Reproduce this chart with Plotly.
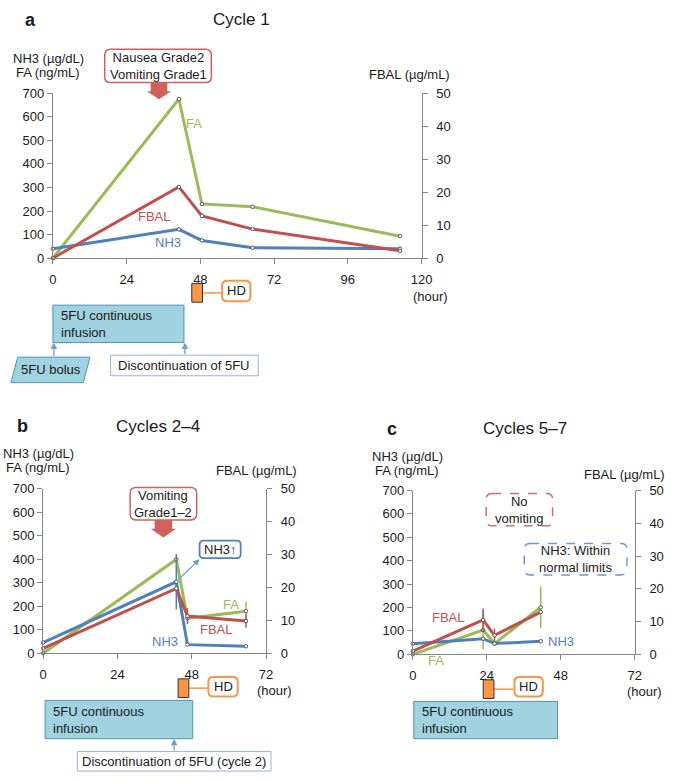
import plotly.graph_objects as go

W, H = 681, 781
FONT = "Liberation Sans, Arial, sans-serif"
GREEN, RED, BLUE = "#9bbb59", "#c0504d", "#4f81bd"
AXC = "#868686"

# ---- data ----
a_hours = [0, 41, 48.5, 65, 113]
a_fa = [0, 676, 230, 218, 93]
a_fbal = [0, 21.6, 12.8, 8.8, 2.2]
a_nh3 = [40, 122, 75, 44, 40]

b_hours = [0, 43, 46.6, 65.5]
b_fa = [0, 399, 149, 179]
b_fbal = [1.5, 19.7, 11.3, 9.8]
b_nh3 = [46, 304, 37, 30]
b_fa_err = [0, 0, 0, 40]
b_fbal_err = [0, 0, 2.4, 2.0]
b_nh3_err = [0, 118, 0, 0]

c_hours = [0, 22.8, 26.5, 41.5]
c_fa = [0, 104, 46, 201]
c_fbal = [1.0, 10.5, 5.8, 12.9]
c_nh3 = [45, 67, 46, 56]
c_fa_err = [0, 83, 0, 90]
c_fbal_err = [0, 3.5, 2.0, 0]

left_ticks = list(range(0, 701, 100))
right_ticks = list(range(0, 51, 10))


def px(x, y):
    return x / W, 1 - y / H


def rrect_path(x0, y0, x1, y1, r):
    # rounded rectangle in paper units, given pixel corners
    def p(x, y):
        a, b = px(x, y)
        return f"{a:.5f},{b:.5f}"
    d = (f"M {p(x0 + r, y0)} L {p(x1 - r, y0)} Q {p(x1, y0)} {p(x1, y0 + r)} "
         f"L {p(x1, y1 - r)} Q {p(x1, y1)} {p(x1 - r, y1)} "
         f"L {p(x0 + r, y1)} Q {p(x0, y1)} {p(x0, y1 - r)} "
         f"L {p(x0, y0 + r)} Q {p(x0, y0)} {p(x0 + r, y0)} Z")
    return d


def poly_path(points):
    s = []
    for i, (x, y) in enumerate(points):
        a, b = px(x, y)
        s.append(("M " if i == 0 else "L ") + f"{a:.5f},{b:.5f}")
    return " ".join(s) + " Z"


shapes = []
annotations = []


def text(x, y, t, size=13, color="#1a1a1a", xanchor="center", bold=False, align="center"):
    a, b = px(x, y)
    annotations.append(dict(x=a, y=b, xref="paper", yref="paper", text=f"<b>{t}</b>" if bold else t,
                            showarrow=False, xanchor=xanchor, yanchor="middle", align=align,
                            font=dict(family=FONT, size=size, color=color)))


def rbox(x0, y0, x1, y1, color, width=1.5, r=5, fill="white", dash="solid"):
    shapes.append(dict(type="path", path=rrect_path(x0, y0, x1, y1, r), xref="paper", yref="paper",
                       line=dict(color=color, width=width, dash=dash), fillcolor=fill))


def rect(x0, y0, x1, y1, color, fill, width=1):
    a0, b0 = px(x0, y0)
    a1, b1 = px(x1, y1)
    shapes.append(dict(type="rect", x0=a0, x1=a1, y0=b1, y1=b0, xref="paper", yref="paper",
                       line=dict(color=color, width=width), fillcolor=fill))


def line(x0, y0, x1, y1, color, width=1.5):
    a0, b0 = px(x0, y0)
    a1, b1 = px(x1, y1)
    shapes.append(dict(type="line", x0=a0, x1=a1, y0=b0, y1=b1, xref="paper", yref="paper",
                       line=dict(color=color, width=width)))


def arrow(xh, yh, xt, yt, color="#6d9ed0", width=1.3):
    a, b = px(xh, yh)
    annotations.append(dict(x=a, y=b, xref="paper", yref="paper", ax=xt - xh, ay=yt - yh,
                            text="", showarrow=True, arrowhead=2, arrowsize=1, arrowwidth=width,
                            arrowcolor=color))


def block_arrow(xc, y0, y1, half_shaft, half_head, head_y):
    pts = [(xc - half_shaft, y0), (xc + half_shaft, y0), (xc + half_shaft, head_y),
           (xc + half_head, head_y), (xc, y1), (xc - half_head, head_y), (xc - half_shaft, head_y)]
    shapes.append(dict(type="path", path=poly_path(pts), xref="paper", yref="paper",
                       line=dict(color="#d0605a", width=0), fillcolor="#d0605a"))


def hd(x0, y0, x1, y1, bx0, by0, bx1, by1):
    ym = (y0 + y1) / 2
    line(x1, ym, bx0, ym, "#f79646", 1.5)
    rect(x0, y0, x1, y1, "#333333", "#f79646", 1)
    rbox(bx0, by0, bx1, by1, "#f79646", width=2, r=5)
    text((bx0 + bx1) / 2, (by0 + by1) / 2, "HD")


fig = go.Figure()


def add_series(hours, vals, xa, ya, color, err=None):
    fig.add_trace(go.Scatter(
        x=hours, y=vals, xaxis=xa, yaxis=ya, mode="lines+markers",
        line=dict(color=color, width=3),
        marker=dict(symbol="circle", size=3.5, color="white", line=dict(color="#555555", width=1)),
        error_y=dict(type="data", array=err, visible=True, color=color, thickness=1.5, width=0) if err else None,
        showlegend=False, cliponaxis=False))


# panel a
add_series(a_hours, a_fa, "x", "y", GREEN)
add_series(a_hours, a_nh3, "x", "y", BLUE)
add_series(a_hours, a_fbal, "x", "y2", RED)
# panel b
add_series(b_hours, b_fa, "x2", "y3", GREEN, b_fa_err)
add_series(b_hours, b_nh3, "x2", "y3", BLUE, b_nh3_err)
add_series(b_hours, b_fbal, "x2", "y4", RED, b_fbal_err)
# panel c
add_series(c_hours, c_fa, "x3", "y5", GREEN, c_fa_err)
add_series(c_hours, c_nh3, "x3", "y5", BLUE)
add_series(c_hours, c_fbal, "x3", "y6", RED, c_fbal_err)

tf = dict(family=FONT, size=13, color="#1a1a1a")
common = dict(showgrid=False, zeroline=False, showline=True, linecolor=AXC, linewidth=1,
              ticks="outside", ticklen=5, tickcolor=AXC, tickfont=tf, fixedrange=True)


def xax(x0, x1, rng, anchor):
    return dict(domain=[x0 / W, x1 / W], range=rng, tickvals=list(range(0, rng[1] + 1, 24)),
                anchor=anchor, ticklabelstandoff=4, **common)


def yax(y0, y1, anchor):
    return dict(domain=[1 - y1 / H, 1 - y0 / H], range=[0, 700], tickvals=left_ticks, anchor=anchor, **common)


def y2ax(y0, y1, anchor, over):
    return dict(domain=[1 - y1 / H, 1 - y0 / H], range=[0, 50], tickvals=right_ticks, anchor=anchor,
                overlaying=over, side="right", ticklabelstandoff=6, **common)


fig.update_layout(
    width=W, height=H, autosize=False, margin=dict(l=0, r=0, t=0, b=0),
    paper_bgcolor="white", plot_bgcolor="white",
    xaxis=xax(50, 427, [0, 120], "y"),
    yaxis=yax(88, 256, "x"),
    yaxis2=y2ax(88, 256, "x", "y"),
    xaxis2=xax(40, 268, [0, 72], "y3"),
    yaxis3=yax(491, 659, "x2"),
    yaxis4=y2ax(491, 659, "x2", "y3"),
    xaxis3=xax(418, 645, [0, 72], "y5"),
    yaxis5=yax(493, 660, "x3"),
    yaxis6=y2ax(493, 660, "x3", "y5"),
)


# series labels (data coordinates)
def slabel(x, y, t, color, xr, yr):
    annotations.append(dict(x=x, y=y, xref=xr, yref=yr, text=t, showarrow=False,
                            font=dict(family=FONT, size=13, color=color)))


slabel(45.8, 571, "FA", GREEN, "x", "y")
slabel(33.1, 175, "FBAL", RED, "x", "y")
slabel(37.6, 67, "NH3", BLUE, "x", "y")
slabel(60.6, 208, "FA", GREEN, "x2", "y3")
slabel(55.9, 100, "FBAL", RED, "x2", "y3")
slabel(39.5, 50, "NH3", BLUE, "x2", "y3")
slabel(11.7, 159, "FBAL", RED, "x3", "y5")
slabel(48.2, 54, "NH3", BLUE, "x3", "y5")
# this one sits below the axis, so place it in paper units (out-of-range labels are hidden)
text(442, 666, "FA", color=GREEN)

INF_FILL, INF_LINE = "#a0d2e0", "#4f93b5"

# ---- panel a decorations ----
text(27, 13, "a", size=18, bold=True)
text(243, 13, "Cycle 1", size=17)
text(45, 52, "NH3 (µg/dL)")
text(45, 67, "FA (ng/mL)")
text(415, 69, "FBAL (µg/mL)")
rbox(103, 43, 212, 77, "#d0605a", width=1.5, r=6)
text(157.5, 60, "Nausea Grade2<br>Vomiting Grade1")
block_arrow(158.5, 77, 94, 8.5, 12.5, 86)
hd(192, 282, 203, 301, 223, 279, 252, 300)
text(436, 295, "(hour)")
rect(50, 304, 184, 342, INF_LINE, INF_FILL)
text(56, 323, "5FU continuous<br>infusion", xanchor="left", align="left")
shapes.append(dict(type="path", path=poly_path([(7, 383), (14, 357), (88, 357), (81, 383)]),
                   xref="paper", yref="paper", line=dict(color=INF_LINE, width=1), fillcolor=INF_FILL))
text(48, 370, "5FU bolus")
rect(109, 355, 260, 376, "#95b3d7", "white")
text(184.5, 366, "Discontinuation of 5FU")
arrow(51, 342, 51, 357)
arrow(185, 342, 185, 355)

# ---- panel b decorations ----
text(19, 427, "b", size=18, bold=True)
text(157, 428, "Cycles 2\u20134", size=17)
text(35, 455, "NH3 (µg/dL)")
text(35, 470, "FA (ng/mL)")
text(258, 473, "FBAL (µg/mL)")
rbox(129, 490, 197, 523, "#d0605a", width=1.5, r=6)
text(163, 506.5, "Vomiting<br>Grade1\u20132")
block_arrow(163, 523, 541, 9, 13, 532)
rbox(200, 544, 242, 562, BLUE, width=1.8, r=4)
text(221, 553, "NH3<b>\u2191</b>")
arrow(200, 563, 176, 586, color="#6d9ed0", width=1.3)
hd(178, 685, 189, 704, 209, 683, 239, 703)
text(277, 697, "(hour)")
rect(42, 707, 193, 746, INF_LINE, INF_FILL)
text(48, 726.5, "5FU continuous<br>infusion", xanchor="left", align="left")
rect(75, 759, 273, 779, "#95b3d7", "white")
text(174, 769, "Discontinuation of 5FU (cycle 2)")
arrow(174, 746, 174, 759)

# ---- panel c decorations ----
text(397, 430, "c", size=18, bold=True)
text(533, 430, "Cycles 5\u20137", size=17)
text(413, 458, "NH3 (µg/dL)")
text(412, 473, "FA (ng/mL)")
text(634, 477, "FBAL (µg/mL)")
rbox(493, 496, 561, 529, "#d0706e", width=1.5, r=6, dash="dash")
text(527, 512.5, "No<br>vomiting")
rbox(532, 547, 637, 579, "#6b9bcc", width=1.5, r=6, dash="dash")
text(584.5, 563, "NH3: Within<br>normal limits")
hd(490, 686, 501, 705, 522, 683, 551, 703)
text(655, 698, "(hour)")
rect(419, 708, 566, 746, INF_LINE, INF_FILL)
text(425, 727, "5FU continuous<br>infusion", xanchor="left", align="left")

fig.update_layout(shapes=shapes, annotations=annotations)
# drop the default body margin so the figure fills the window exactly
fig.write_html("out.html", config={"displayModeBar": False},
               post_script="document.body.style.margin='0';document.body.style.overflow='hidden';")
